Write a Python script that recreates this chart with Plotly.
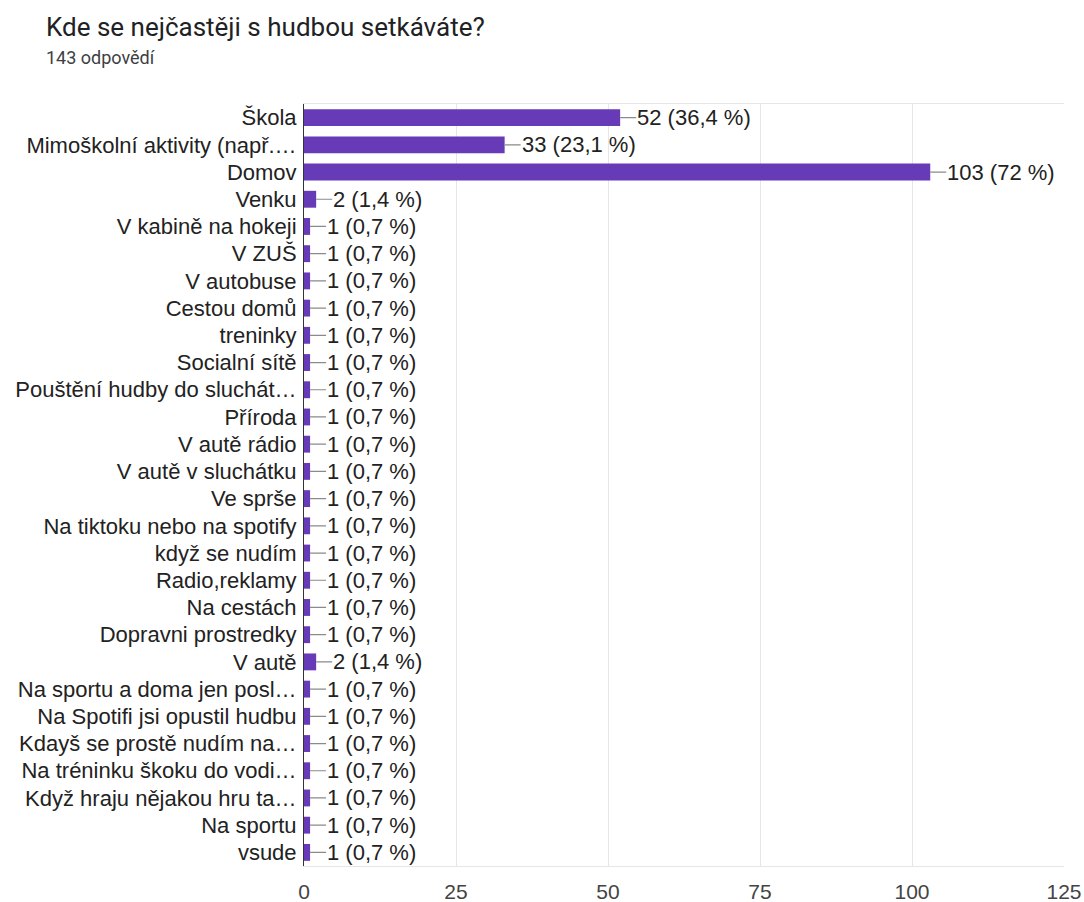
import plotly.graph_objects as go

title = "Kde se nejčastěji s hudbou setkáváte?"
subtitle = "143 odpovědí"
total_responses = 143

categories = [
    "Škola",
    "Mimoškolní aktivity (např.…",
    "Domov",
    "Venku",
    "V kabině na hokeji",
    "V ZUŠ",
    "V autobuse",
    "Cestou domů",
    "treninky",
    "Socialní sítě",
    "Pouštění hudby do sluchát…",
    "Příroda",
    "V autě rádio",
    "V autě v sluchátku",
    "Ve sprše",
    "Na tiktoku nebo na spotify",
    "když se nudím",
    "Radio,reklamy",
    "Na cestách",
    "Dopravni prostredky",
    "V autě",
    "Na sportu a doma jen posl…",
    "Na Spotifi jsi opustil hudbu",
    "Kdayš se prostě nudím na…",
    "Na tréninku škoku do vodi…",
    "Když hraju nějakou hru ta…",
    "Na sportu",
    "vsude",
]
counts = [52, 33, 103, 2, 1, 1, 1, 1, 1, 1, 1, 1, 1, 1, 1, 1, 1, 1, 1, 1, 2, 1, 1, 1, 1, 1, 1, 1]
x_ticks = [0, 25, 50, 75, 100, 125]

FONT = "Liberation Sans, Arial, sans-serif"
BAR_COLOR = "#673ab7"

W, H = 1084, 902
M_L, M_R, M_T, M_B = 304, 20, 104, 36


def fmt_label(n):
    pct = round(n / total_responses * 100, 1)
    s = f"{pct:.1f}"
    if s.endswith(".0"):
        s = s[:-2]
    return f"{n} ({s.replace('.', ',')} %)"


fig = go.Figure(
    go.Bar(
        x=counts,
        y=categories,
        orientation="h",
        marker=dict(color=BAR_COLOR, line=dict(width=0)),
        hoverinfo="skip",
    )
)

# value labels joined to the bar ends by short grey leader lines
for cat, n in zip(categories, counts):
    fig.add_annotation(
        x=n, y=cat, xref="x", yref="y",
        text=fmt_label(n),
        showarrow=True, arrowhead=0, arrowwidth=1.2, arrowcolor="#8a8a8a",
        ax=16, ay=0, axref="pixel", ayref="pixel",
        xanchor="left", yanchor="middle",
        borderpad=0, standoff=0, startstandoff=0,
        font=dict(family=FONT, size=22, color="#222222"),
    )

# heading, positioned in pixels above the plotting area
plot_w = W - M_L - M_R
plot_h = H - M_T - M_B
head_x = -(M_L - 47) / plot_w
fig.add_annotation(
    text=title, xref="paper", yref="paper", x=head_x, y=1 + (M_T - 27) / plot_h,
    xanchor="left", yanchor="middle", showarrow=False, borderpad=0, xshift=-2,
    font=dict(family="Roboto, sans-serif", size=26, color="#202124"),
)
fig.add_annotation(
    text=subtitle, xref="paper", yref="paper", x=head_x, y=1 + (M_T - 58) / plot_h,
    xanchor="left", yanchor="middle", showarrow=False, borderpad=0, xshift=-2,
    font=dict(family="Roboto, sans-serif", size=18, color="#3c4043"),
)

fig.update_layout(
    width=W, height=H,
    margin=dict(l=M_L, r=M_R, t=M_T, b=M_B, autoexpand=False),
    paper_bgcolor="white", plot_bgcolor="white",
    bargap=0.38,
    showlegend=False,
    xaxis=dict(
        range=[0, 125], tickvals=x_ticks, ticktext=[str(t) for t in x_ticks],
        showgrid=True, gridcolor="#e6e6e6", gridwidth=1,
        zeroline=False, showline=True, linecolor="#e6e6e6", mirror=True,
        ticks="", ticklabelstandoff=7, automargin=False,
        tickfont=dict(family=FONT, size=21, color="#444444"),
        fixedrange=True,
    ),
    yaxis=dict(
        categoryorder="array", categoryarray=categories, autorange="reversed",
        showgrid=False, zeroline=False, showline=True, linecolor="#333333", linewidth=1,
        ticks="", ticklabelstandoff=2, automargin=False,
        tickfont=dict(family=FONT, size=22, color="#222222"),
        fixedrange=True,
    ),
)

fig.write_html("out.html")
